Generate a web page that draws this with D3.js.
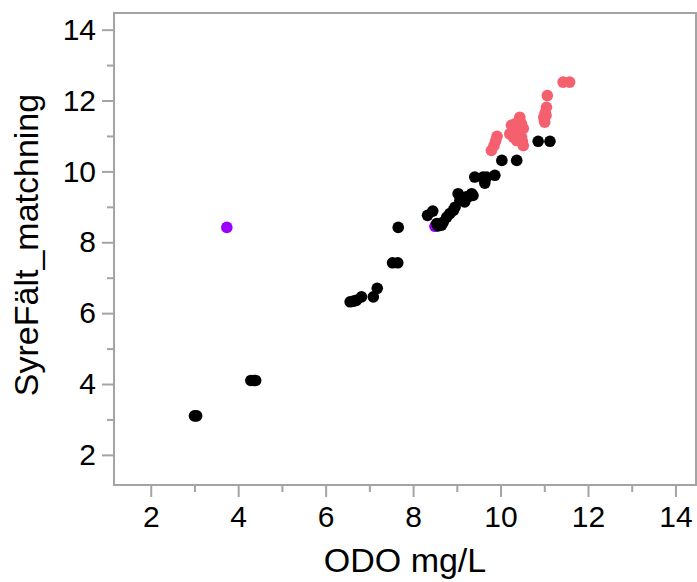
<!DOCTYPE html>
<html>
<head>
<meta charset="utf-8">
<script src="https://cdn.jsdelivr.net/npm/d3@7"></script>
<style>
    body { margin: 0; background: #fff; }
    svg { display: block; }
    .tickLabel { font-family: "Liberation Sans", Arial, sans-serif; font-size: 30px; fill: #000; }
    .axisTitle { font-family: "Liberation Sans", Arial, sans-serif; font-size: 34px; fill: #000; }
</style>
</head>
<body>
<svg id="chart" width="697" height="582"></svg>
<script>
// ODO mg/L (x) against SyreFält_matchning (y), three marker groups
var blackOdo  = [3.00, 3.05, 4.29, 4.36, 4.40, 6.56, 6.64, 6.70, 6.82, 7.09, 7.18, 7.53, 7.65, 7.66,
                 8.33, 8.45, 8.54, 8.57, 8.65, 8.69, 8.77, 8.84, 8.92, 8.96, 9.03, 9.07, 9.11, 9.18,
                 9.22, 9.26, 9.34, 9.37, 9.41, 9.60, 9.64, 9.68, 9.87, 10.03, 10.37, 10.86, 11.13];
var blackSyre = [3.10, 3.10, 4.10, 4.10, 4.10, 6.32, 6.34, 6.36, 6.46, 6.46, 6.70, 7.42, 7.42, 8.42,
                 8.76, 8.88, 8.53, 8.46, 8.48, 8.57, 8.71, 8.81, 8.90, 8.99, 9.37, 9.18, 9.20, 9.14,
                 9.28, 9.28, 9.37, 9.32, 9.84, 9.84, 9.67, 9.84, 9.89, 10.31, 10.31, 10.85, 10.85];

var pinkOdo  = [9.79, 9.85, 9.89, 9.92, 10.21, 10.25, 10.29, 10.33, 10.37, 10.40, 10.44, 10.48, 10.48,
                10.52, 10.52, 10.30, 10.35, 10.42, 10.45, 10.50,
                10.99, 11.00, 11.01, 11.02, 11.04, 11.05, 11.07, 11.43, 11.58];
var pinkSyre = [10.59, 10.73, 10.87, 10.99, 11.06, 11.30, 10.97, 11.34, 10.87, 11.11, 11.53, 10.97, 11.34,
                10.73, 11.21, 11.20, 11.05, 10.95, 11.40, 10.85,
                11.53, 11.45, 11.39, 11.65, 11.58, 11.81, 12.14, 12.52, 12.52];

var purpleOdo  = [3.74, 8.50];
var purpleSyre = [8.42, 8.45];

var majorTicks = [2, 4, 6, 8, 10, 12, 14];
var minorTicks = [3, 5, 7, 9, 11, 13];

var AXIS_COLOR = "#a4a4a4";
var DOT_RADIUS = 5.8;

var svg = d3.select("#chart");

var plotLeft = 114, plotRight = 696, plotTop = 13, plotBottom = 485;

var x = d3.scaleLinear().domain([1.16, 14.47]).range([plotLeft, plotRight]);
var y = d3.scaleLinear().domain([1.15, 14.47]).range([plotBottom, plotTop]);

function toPoints(xs, ys) {
    return xs.map(function(v, i) { return { x: v, y: ys[i] }; });
}

var groups = [
    { color: "#9b00ff", points: toPoints(purpleOdo, purpleSyre) },
    { color: "#f5606f", points: toPoints(pinkOdo, pinkSyre) },
    { color: "#000000", points: toPoints(blackOdo, blackSyre) }
];

// Frame
svg.append("rect")
    .attr("x", plotLeft)
    .attr("y", plotTop)
    .attr("width", plotRight - plotLeft)
    .attr("height", plotBottom - plotTop)
    .attr("fill", "none")
    .attr("stroke", AXIS_COLOR)
    .attr("stroke-width", 2);

// Axes: major ticks with labels, minor ticks without
var xMajor = svg.append("g")
    .attr("transform", "translate(0," + plotBottom + ")")
    .call(d3.axisBottom(x).tickValues(majorTicks).tickSize(12).tickPadding(6).tickFormat(d3.format("d")));
var xMinor = svg.append("g")
    .attr("transform", "translate(0," + plotBottom + ")")
    .call(d3.axisBottom(x).tickValues(minorTicks).tickSize(7).tickFormat(""));
var yMajor = svg.append("g")
    .attr("transform", "translate(" + plotLeft + ",0)")
    .call(d3.axisLeft(y).tickValues(majorTicks).tickSize(12).tickPadding(6).tickFormat(d3.format("d")));
var yMinor = svg.append("g")
    .attr("transform", "translate(" + plotLeft + ",0)")
    .call(d3.axisLeft(y).tickValues(minorTicks).tickSize(7).tickFormat(""));

[xMajor, xMinor, yMajor, yMinor].forEach(function(g) {
    g.select(".domain").remove();
    g.selectAll(".tick line").attr("stroke", AXIS_COLOR).attr("stroke-width", 2);
    g.selectAll(".tick text").attr("class", "tickLabel").attr("font-size", null).attr("font-family", null);
});
xMajor.selectAll(".tick text").attr("dy", "0.8em");

// Points
groups.forEach(function(grp) {
    svg.append("g")
        .selectAll("circle")
        .data(grp.points)
        .enter().append("circle")
            .attr("cx", function(d) { return x(d.x); })
            .attr("cy", function(d) { return y(d.y); })
            .attr("r", DOT_RADIUS)
            .attr("fill", grp.color);
});

// Axis titles
svg.append("text")
    .attr("class", "axisTitle")
    .attr("x", (plotLeft + plotRight) / 2)
    .attr("y", 572)
    .attr("text-anchor", "middle")
    .text("ODO mg/L");

svg.append("text")
    .attr("class", "axisTitle")
    .attr("transform", "translate(38," + ((plotTop + plotBottom) / 2 - 4) + ") rotate(-90)")
    .attr("text-anchor", "middle")
    .text("SyreFält_matchning");
</script>
</body>
</html>
